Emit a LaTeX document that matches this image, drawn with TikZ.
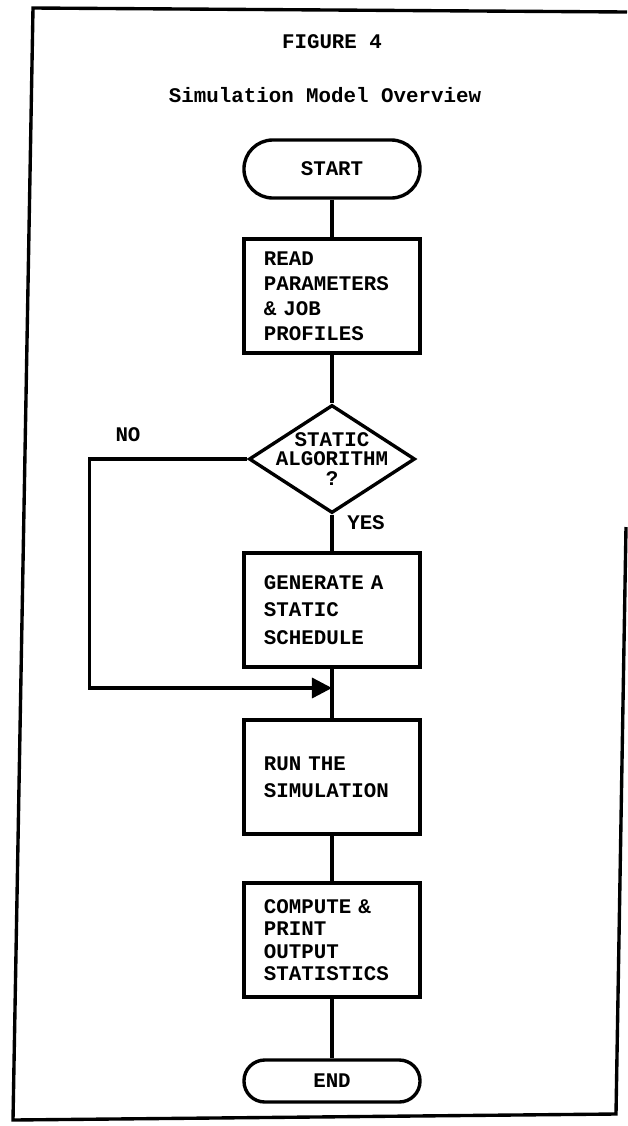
\documentclass[tikz,border=0pt]{standalone}
\usepackage{fontspec}
\setmainfont{Liberation Mono}
\usetikzlibrary{arrows.meta,shapes.geometric}

\begin{document}
\begin{tikzpicture}[x=0.025cm, y=-0.025cm,
    every node/.style={font=\fontsize{14.8}{17.8}\selectfont\bfseries},
    terminal/.style={draw, line width=2.4pt, minimum width=4.4cm},
    process/.style={draw, line width=2.4pt, minimum width=4.4cm, minimum height=2.85cm,
        inner xsep=0.5cm, text width=3.4cm, align=left},
    decision/.style={draw, diamond, line width=2.4pt, inner sep=0pt,
        minimum width=4.15cm, minimum height=2.7cm},
    flow/.style={line width=2.4pt}]
    \useasboundingbox (0,0) rectangle (627,1126);

    % Page frame
    \draw[line width=2.4pt] (627,12) -- (33,8) -- (13,1120) -- (616,1114) -- (626,527);

    % Titles
    \node (fig) at (332,42) {FIGURE 4};
    \node (title) at (325,95) {Simulation Model Overview};

    % Flowchart
    \node[terminal, minimum height=1.45cm, rounded corners=0.72cm] (start) at (332,169) {START};
    \node[process] (read) at (332,296) {READ\\PARAMETERS\\\& JOB\\PROFILES};
    \node[decision, label={[font=\fontsize{14.8}{13.8}\selectfont\bfseries, align=center]center:STATIC\\ALGORITHM\\?}] (dec) at (332,459) {};
    \node[process, font=\fontsize{14.8}{19.5}\selectfont\bfseries] (gen) at (332,610) {GENERATE A\\STATIC\\SCHEDULE};
    \node[process, font=\fontsize{14.8}{19}\selectfont\bfseries] (run) at (332,777) {RUN THE\\SIMULATION};
    \node[process, font=\fontsize{14.8}{16}\selectfont\bfseries] (comp) at (332,940) {COMPUTE \&\\PRINT\\OUTPUT\\STATISTICS};
    \node[terminal, minimum height=1.05cm, rounded corners=0.52cm] (end) at (332,1081) {END};

    % Branch labels
    \node (no) at (128,435) {NO};
    \node (yes) at (366,523) {YES};

    % Connectors
    \draw[flow] (start) -- (read);
    \draw[flow] (read) -- (dec);
    \draw[flow] (dec) -- (gen);
    \draw[flow] (gen) -- (run);
    \draw[flow] (run) -- (comp);
    \draw[flow] (comp) -- (end);
    \coordinate (join) at (332,688);
    \draw[flow, -{Triangle[length=0.5cm, width=0.5cm]}] (dec.west) -- ++(-158,0) |- (join);
\end{tikzpicture}
\end{document}
